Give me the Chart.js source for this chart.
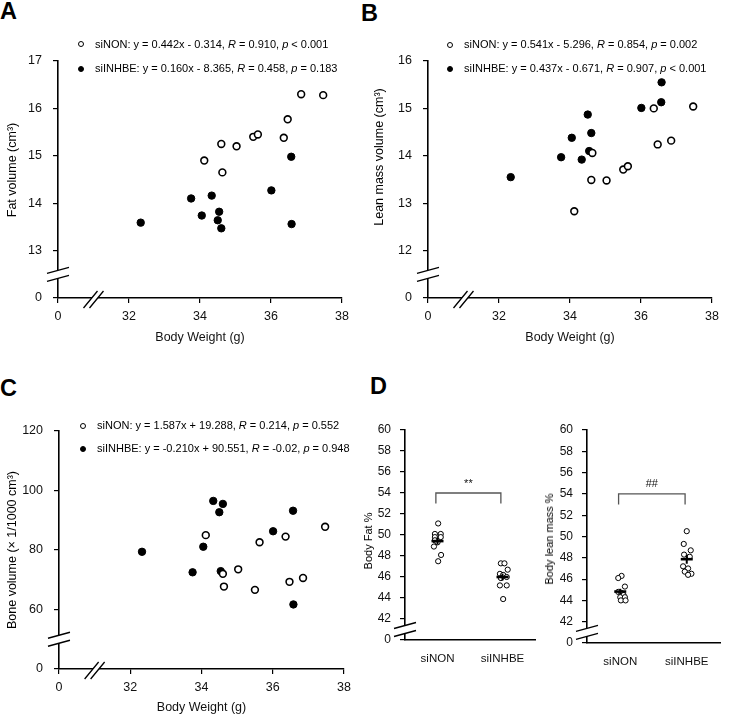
<!DOCTYPE html>
<html lang="en">
<head>
<meta charset="UTF-8">
<title>Body composition vs body weight</title>
<style>
  body {
    margin: 0;
    width: 734px;
    height: 714px;
    position: relative;
    overflow: hidden;
    background: #fff;
    color: #000;
    font-family: Arial, "Liberation Sans", sans-serif;
  }
  canvas { position: absolute; }
  .letter { position: absolute; font-weight: bold; font-size: 23.5px; line-height: 1; }
  .ytitle {
    position: absolute;
    font-size: 12.5px;
    white-space: nowrap;
    transform: translate(-50%, -50%) rotate(-90deg);
  }
  .ytitle.small { font-size: 11px; }
  .leg { position: absolute; font-size: 11px; line-height: 13px; white-space: nowrap; }
  .sym {
    position: absolute;
    width: 4px; height: 4px;
    border: 1px solid #000;
    border-radius: 50%;
    background: #fff;
  }
  .sym.fill { background: #000; }
</style>
</head>
<body>
  <!-- panel letters -->
  <div class="letter" style="left:0;top:0">A</div>
  <div class="letter" style="left:361px;top:2px">B</div>
  <div class="letter" style="left:0;top:377px">C</div>
  <div class="letter" style="left:370px;top:375px">D</div>

  <canvas id="chartA" width="367" height="350" style="left:0;top:0"></canvas>
  <canvas id="chartB" width="367" height="350" style="left:367px;top:0"></canvas>
  <canvas id="chartC" width="367" height="360" style="left:0;top:360px"></canvas>
  <canvas id="chartD1" width="180" height="320" style="left:367px;top:360px"></canvas>
  <canvas id="chartD2" width="184" height="320" style="left:550px;top:360px"></canvas>

  <!-- y axis titles -->
  <div class="ytitle" style="left:12px;top:170px">Fat volume (cm³)</div>
  <div class="ytitle" style="left:379px;top:157px">Lean mass volume (cm³)</div>
  <div class="ytitle" style="left:12px;top:550px">Bone volume (× 1/1000 cm³)</div>
  <div class="ytitle small" style="left:368px;top:541px">Body Fat %</div>
  <div class="ytitle small" style="left:549px;top:539px">Body lean mass %</div>

  <!-- regression legends -->
  <span class="sym" style="left:78px;top:41px"></span>
  <div class="leg" style="left:95px;top:38px">siNON: y = 0.442x - 0.314, <i>R</i> = 0.910, <i>p</i> &lt; 0.001</div>
  <span class="sym fill" style="left:78px;top:66px"></span>
  <div class="leg" style="left:95px;top:62px">siINHBE: y = 0.160x - 8.365, <i>R</i> = 0.458, <i>p</i> = 0.183</div>

  <span class="sym" style="left:447px;top:42px"></span>
  <div class="leg" style="left:464px;top:38px">siNON: y = 0.541x - 5.296, <i>R</i> = 0.854, <i>p</i> = 0.002</div>
  <span class="sym fill" style="left:447px;top:66px"></span>
  <div class="leg" style="left:464px;top:62px">siINHBE: y = 0.437x - 0.671, <i>R</i> = 0.907, <i>p</i> &lt; 0.001</div>

  <span class="sym" style="left:80px;top:423px"></span>
  <div class="leg" style="left:97px;top:419px">siNON: y = 1.587x + 19.288, <i>R</i> = 0.214, <i>p</i> = 0.552</div>
  <span class="sym fill" style="left:80px;top:446px"></span>
  <div class="leg" style="left:97px;top:442px">siINHBE: y = -0.210x + 90.551, <i>R</i> = -0.02, <i>p</i> = 0.948</div>

  <script src="https://cdn.jsdelivr.net/npm/chart.js"></script>
  <script>
    // body weight (g) per mouse, same order as the y arrays below
    const nonWeight = [34.12, 34.60, 34.63, 35.03, 35.50, 35.63, 36.36, 36.47, 36.85, 37.47];
    const nonFat    = [14.90, 15.25, 14.65, 15.20, 15.40, 15.45, 15.38, 15.77, 16.30, 16.28];
    const nonLean   = [12.83, 13.49, 14.06, 13.48, 13.71, 13.78, 15.00, 14.24, 14.32, 15.04];
    const nonBone   = [85.0, 72.0, 67.7, 73.5, 66.6, 82.6, 84.5, 69.3, 70.6, 87.8];

    const inhWeight = [32.33, 33.75, 34.05, 34.33, 34.50, 34.54, 34.60, 36.01, 36.57, 36.58];
    const inhFat    = [13.59, 14.10, 13.74, 14.16, 13.64, 13.82, 13.47, 14.27, 14.98, 13.56];
    const inhLean   = [13.55, 13.97, 14.38, 13.92, 14.87, 14.10, 14.48, 15.01, 15.13, 15.55];
    const inhBone   = [79.4, 72.5, 81.1, 96.5, 92.7, 72.9, 95.5, 86.3, 93.2, 61.7];

    // panel D: percentages per mouse, with the horizontal scatter
    const groups = ['siNON', 'siINHBE'];
    const fatPctNON       = [51.1, 50.1, 50.1, 49.8, 49.8, 49.5, 49.3, 48.9, 48.1, 47.5];
    const fatPctNONJit    = [0.02, -0.08, 0.10, -0.08, 0.10, -0.08, 0, -0.11, 0.11, 0.02];
    const fatPctINH       = [47.3, 47.3, 46.7, 46.3, 46.2, 46.0, 45.9, 45.2, 45.2, 43.9];
    const fatPctINHJit    = [-0.05, 0.06, 0.16, -0.08, 0.02, 0.13, -0.05, -0.08, 0.13, 0.02];
    const leanPctNON      = [46.3, 46.1, 45.3, 44.8, 44.7, 44.5, 44.3, 44.3, 44.0, 44.0];
    const leanPctNONJit   = [0.04, -0.06, 0.14, -0.06, 0.03, 0.10, 0, 0.14, 0.02, 0.16];
    const leanPctINH      = [50.5, 49.3, 48.7, 48.3, 48.1, 47.2, 47.0, 46.7, 46.5, 46.4];
    const leanPctINHJit   = [0, -0.09, 0.12, -0.08, 0.09, -0.11, 0.04, -0.06, 0.14, 0.04];

    Chart.defaults.font.family = 'Arial, "Liberation Sans", sans-serif';
    Chart.defaults.font.size = 12.5;
    Chart.defaults.color = '#111';

    // draws the "//" marks on broken axes
    const axisBreaks = {
      id: 'axisBreaks',
      afterDraw(chart, args, opts) {
        const { ctx, chartArea, scales } = chart;
        ctx.save();
        ctx.strokeStyle = '#000';
        ctx.lineWidth = 1.3;
        if (opts.y != null) {
          const y = scales.y.getPixelForValue(opts.y);
          const x = chartArea.left;
          ctx.fillStyle = '#fff';
          ctx.beginPath();
          ctx.moveTo(x - 11, y + 7); ctx.lineTo(x + 11, y + 1);
          ctx.lineTo(x + 11, y - 7); ctx.lineTo(x - 11, y - 1);
          ctx.closePath(); ctx.fill();
          ctx.beginPath();
          ctx.moveTo(x - 11, y + 7); ctx.lineTo(x + 11, y + 1);
          ctx.moveTo(x - 11, y - 1); ctx.lineTo(x + 11, y - 7);
          ctx.stroke();
        }
        if (opts.x != null) {
          const x = scales.x.getPixelForValue(opts.x);
          const y = chartArea.bottom + 1;
          ctx.fillStyle = '#fff';
          ctx.beginPath();
          ctx.moveTo(x - 10, y + 9); ctx.lineTo(x + 4, y - 8);
          ctx.lineTo(x + 10, y - 8); ctx.lineTo(x - 4, y + 9);
          ctx.closePath(); ctx.fill();
          ctx.beginPath();
          ctx.moveTo(x - 10, y + 9); ctx.lineTo(x + 4, y - 8);
          ctx.moveTo(x - 4, y + 9); ctx.lineTo(x + 10, y - 8);
          ctx.stroke();
        }
        ctx.restore();
      }
    };

    // mean +/- SEM cross for the dot plots
    const meanMarks = {
      id: 'meanMarks',
      afterDatasetsDraw(chart, args, opts) {
        if (!opts.groups) return;
        const { ctx, scales } = chart;
        ctx.save();
        ctx.strokeStyle = '#000';
        opts.groups.forEach(g => {
          const n = g.values.length;
          const m = g.values.reduce((a, b) => a + b, 0) / n;
          const sd = Math.sqrt(g.values.reduce((a, b) => a + (b - m) ** 2, 0) / (n - 1));
          const sem = sd / Math.sqrt(n);
          const px = scales.x.getPixelForValue(g.x);
          const py = scales.y.getPixelForValue(m);
          ctx.lineWidth = 2.6;
          ctx.beginPath(); ctx.moveTo(px - 6, py); ctx.lineTo(px + 6, py); ctx.stroke();
          ctx.lineWidth = 2;
          ctx.beginPath();
          ctx.moveTo(px, scales.y.getPixelForValue(m + sem));
          ctx.lineTo(px, scales.y.getPixelForValue(m - sem));
          ctx.stroke();
        });
        ctx.restore();
      }
    };

    // significance bracket
    const bracket = {
      id: 'bracket',
      afterDraw(chart, args, opts) {
        if (!opts.label) return;
        const { ctx, scales } = chart;
        const x1 = scales.x.getPixelForValue(opts.x1), x2 = scales.x.getPixelForValue(opts.x2);
        const yt = scales.y.getPixelForValue(opts.top), yf = scales.y.getPixelForValue(opts.foot);
        ctx.save();
        ctx.strokeStyle = '#555';
        ctx.lineWidth = 1.3;
        ctx.beginPath();
        ctx.moveTo(x1, yf); ctx.lineTo(x1, yt); ctx.lineTo(x2, yt); ctx.lineTo(x2, yf);
        ctx.stroke();
        ctx.fillStyle = '#111';
        ctx.font = '11px Arial, "Liberation Sans", sans-serif';
        ctx.textAlign = 'center';
        ctx.textBaseline = 'middle';
        ctx.fillText(opts.label, (x1 + x2) / 2, scales.y.getPixelForValue(opts.labelY));
        ctx.restore();
      }
    };

    Chart.register(axisBreaks, meanMarks, bracket);

    const tickGrid = { display: true, drawOnChartArea: false, tickLength: 5, color: '#000', lineWidth: 1.2 };
    const axisBorder = { color: '#000', width: 1.6 };

    function scatterPanel(id, geo, y, nonY, inhY) {
      const canvas = document.getElementById(id);
      const W = canvas.width, H = canvas.height;
      return new Chart(canvas, {
        type: 'scatter',
        data: {
          datasets: [
            {
              label: 'siNON',
              data: nonWeight.map((x, i) => ({ x: x, y: nonY[i] })),
              pointRadius: 3.4, pointBorderWidth: 1.6,
              borderColor: '#000', backgroundColor: '#fff'
            },
            {
              label: 'siINHBE',
              data: inhWeight.map((x, i) => ({ x: x, y: inhY[i] })),
              pointRadius: 3.7, pointBorderWidth: 1,
              borderColor: '#000', backgroundColor: '#000'
            }
          ]
        },
        options: {
          responsive: false,
          animation: false,
          layout: { padding: { left: 0, top: geo.top, right: W - geo.right, bottom: 0 } },
          plugins: {
            legend: { display: false },
            tooltip: { enabled: false },
            axisBreaks: { x: 31, y: y.min + y.step / 2 }
          },
          scales: {
            x: {
              type: 'linear', min: 30, max: 38,
              ticks: { stepSize: 2, padding: 6, callback: v => v === 30 ? '0' : v },
              grid: tickGrid, border: axisBorder,
              title: { display: true, text: 'Body Weight (g)', padding: { top: 0, bottom: 5 } },
              afterFit: s => { s.height = H - geo.bottom; }
            },
            y: {
              min: y.min, max: y.max,
              ticks: { stepSize: y.step, padding: 11, callback: v => v === y.min ? '0' : v },
              grid: tickGrid, border: axisBorder,
              afterFit: s => { s.width = geo.left; }
            }
          }
        }
      });
    }

    scatterPanel('chartA', { left: 58, right: 342, top: 61, bottom: 298 }, { min: 12, max: 17, step: 1 }, nonFat, inhFat);
    scatterPanel('chartB', { left: 61, right: 345, top: 61, bottom: 298 }, { min: 11, max: 16, step: 1 }, nonLean, inhLean);
    scatterPanel('chartC', { left: 59, right: 344, top: 71, bottom: 309 }, { min: 40, max: 120, step: 20 }, nonBone, inhBone);

    function dotPanel(id, geo, nonV, nonJ, inhV, inhJ, sig) {
      const canvas = document.getElementById(id);
      const W = canvas.width, H = canvas.height;
      return new Chart(canvas, {
        type: 'scatter',
        data: {
          datasets: [
            { data: nonV.map((v, i) => ({ x: 1 + nonJ[i], y: v })) },
            { data: inhV.map((v, i) => ({ x: 3 + inhJ[i], y: v })) }
          ]
        },
        options: {
          responsive: false,
          animation: false,
          elements: { point: { radius: 2.6, borderWidth: 1, borderColor: '#000', backgroundColor: '#fff' } },
          layout: { padding: { left: 0, top: geo.top, right: W - geo.right, bottom: 0 } },
          plugins: {
            legend: { display: false },
            tooltip: { enabled: false },
            axisBreaks: { y: 41 },
            meanMarks: { groups: [{ x: 1, values: nonV }, { x: 3, values: inhV }] },
            bracket: { x1: 0.95, x2: 2.95, top: 54, foot: 53, labelY: 54.9, label: sig }
          },
          scales: {
            x: {
              type: 'linear', min: 0, max: 4,
              afterBuildTicks: s => { s.ticks = [{ value: 1 }, { value: 3 }]; },
              ticks: { padding: 4, font: { size: 11.5 }, callback: v => groups[(v - 1) / 2] },
              grid: { display: false }, border: axisBorder,
              afterFit: s => { s.height = H - geo.bottom; }
            },
            y: {
              min: 40, max: 60,
              ticks: { stepSize: 2, padding: 9, font: { size: 12 }, callback: v => v === 40 ? '0' : v },
              grid: tickGrid, border: axisBorder,
              afterFit: s => { s.width = geo.left; }
            }
          }
        }
      });
    }

    dotPanel('chartD1', { left: 38, right: 168, top: 70, bottom: 280 }, fatPctNON, fatPctNONJit, fatPctINH, fatPctINHJit, '**');
    dotPanel('chartD2', { left: 37, right: 170, top: 70, bottom: 283 }, leanPctNON, leanPctNONJit, leanPctINH, leanPctINHJit, '##');
  </script>
</body>
</html>
